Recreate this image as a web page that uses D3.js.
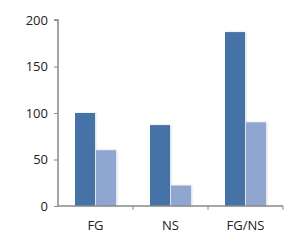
<!DOCTYPE html>
<html><head><meta charset="utf-8">
<script src="https://cdn.jsdelivr.net/npm/d3@7"></script>
<style>html,body{margin:0;padding:0;background:#fff;}svg{display:block;}</style>
</head><body>
<script>
const categories = ["FG", "NS", "FG/NS"];
const series1 = [100, 87, 187];
const series2 = [60, 22, 90];
const yTicks = [0, 50, 100, 150, 200];

const W = 299, H = 244;
const svg = d3.select("body").append("svg").attr("width", W).attr("height", H);
const x0 = 58, x1 = 283, yTop = 20, yBot = 206;
const x = d3.scaleBand().domain(categories).range([x0, x1]).paddingInner(0).paddingOuter(0);
const y = d3.scaleLinear().domain([0, 200]).range([yBot, yTop]);

const defs = svg.append("defs");
const f = defs.append("filter").attr("id", "sh").attr("x", "-20%").attr("y", "-10%").attr("width", "140%").attr("height", "120%");
f.append("feDropShadow").attr("dx", 1).attr("dy", 0).attr("stdDeviation", 1).attr("flood-color", "#000").attr("flood-opacity", 0.15);

const barW = 20, offset = 17;
const g = svg.append("g");
categories.forEach((c, i) => {
  const bx = x(c) + offset;
  g.append("rect").attr("x", bx).attr("y", y(series1[i])).attr("width", barW).attr("height", yBot - y(series1[i]))
    .attr("fill", "#4572a7").attr("filter", "url(#sh)");
  g.append("rect").attr("x", bx + barW + 1).attr("y", y(series2[i])).attr("width", barW).attr("height", yBot - y(series2[i]))
    .attr("fill", "#8fa7d0").attr("filter", "url(#sh)");
});

// y axis
const ya = svg.append("g").attr("transform", `translate(${x0},0)`)
  .call(d3.axisLeft(y).tickValues(yTicks).tickSize(4).tickPadding(6));
ya.select(".domain").attr("stroke", "#888").attr("stroke-width", 1.5).attr("d", `M-4,${yTop}H0V${yBot}`);
ya.selectAll(".tick line").attr("stroke", "#888");
ya.selectAll("text").attr("font-family", "Open Sans, sans-serif").attr("font-size", 13).attr("fill", "#222");

// x axis
const xa = svg.append("g").attr("transform", `translate(0,${yBot})`);
xa.append("line").attr("x1", x0).attr("x2", x1).attr("stroke", "#888").attr("stroke-width", 1.5);
const bounds = categories.map(c => x(c) + x.bandwidth());
xa.selectAll("line.tk").data(bounds).join("line").attr("class", "tk")
  .attr("x1", d => d).attr("x2", d => d).attr("y1", 0).attr("y2", 4).attr("stroke", "#888");
xa.selectAll("text").data(categories).join("text")
  .attr("x", d => x(d) + x.bandwidth() / 2).attr("y", 24)
  .attr("text-anchor", "middle").attr("font-family", "Open Sans, sans-serif").attr("font-size", 13).attr("fill", "#222")
  .text(d => d);
</script>
</body></html>
